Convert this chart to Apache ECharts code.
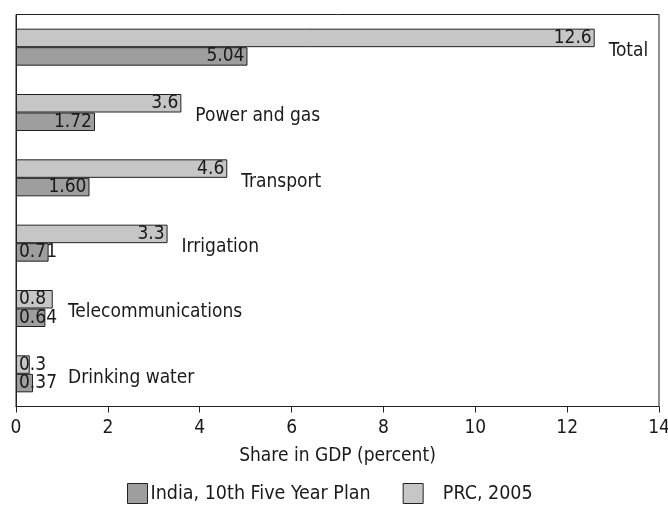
<!DOCTYPE html>
<html>
<head>
<meta charset="utf-8">
<script src="https://cdn.jsdelivr.net/npm/echarts@6/dist/echarts.min.js"></script>
<style>
html, body { margin: 0; padding: 0; background: #fff; }
#chart { width: 668px; height: 506px; }
</style>
</head>
<body>
<div id="chart"></div>
<script>
const categories = ['Total', 'Power and gas', 'Transport', 'Irrigation', 'Telecommunications', 'Drinking water']
const prcValues = [12.6, 3.6, 4.6, 3.3, 0.8, 0.3]
const indiaValues = [5.04, 1.72, 1.60, 0.71, 0.64, 0.37]
const indiaLabels = ['5.04', '1.72', '1.60', '0.71', '0.64', '0.37']
const prcName = 'PRC, 2005'
const indiaName = 'India, 10th Five Year Plan'

const font = 'DejaVu Sans Condensed'
const ink = '#1a1a1a'
// category names never start closer to the axis than this (keeps clear of the value text)
const minNameAnchor = 0.83

// narrow bars get their value written from the left edge
const barData = (vals, texts) => vals.map((v, i) => ({
    value: v,
    label: {
        position: v < 1 ? 'insideLeft' : 'insideRight',
        formatter: texts ? texts[i] : String(v)
    }
}))

const myChart = echarts.init(document.getElementById('chart'))
const option = {
    animation: false,
    textStyle: { fontFamily: font },
    grid: {
        left: 16, right: 9, top: 14.5, bottom: 99.5,
        outerBoundsMode: 'none',
        show: true, borderColor: '#222', borderWidth: 1
    },
    legend: {
        data: [indiaName, prcName],
        bottom: 2,
        left: 127,
        padding: 0,
        itemWidth: 20,
        itemHeight: 20,
        itemGap: 32,
        icon: 'rect',
        itemStyle: { borderColor: '#222', borderWidth: 1 },
        textStyle: { fontFamily: font, fontSize: 19.5, color: ink, padding: [0, 0, 0, -2] },
        formatter: name => name === prcName ? '   ' + name : name
    },
    xAxis: {
        type: 'value',
        min: 0, max: 14, interval: 2,
        name: 'Share in GDP (percent)',
        nameLocation: 'middle',
        nameGap: 40,
        nameTextStyle: { fontFamily: font, fontSize: 19, color: ink },
        axisLine: { show: true, lineStyle: { color: '#222' } },
        axisTick: { show: true, length: 6, lineStyle: { color: '#222' } },
        axisLabel: { fontFamily: font, fontSize: 19, color: ink, margin: 12 },
        splitLine: { show: false }
    },
    yAxis: {
        type: 'category',
        data: categories,
        inverse: true,
        axisLine: { show: true, lineStyle: { color: '#222' } },
        axisTick: { show: false },
        axisLabel: { show: false }
    },
    series: [
        {
            name: prcName,
            type: 'bar',
            barWidth: 18.5,
            barGap: '0%',
            itemStyle: { color: '#c6c6c6', borderColor: '#222', borderWidth: 1 },
            label: { show: true, fontFamily: font, fontSize: 19, color: ink, distance: 3 },
            data: barData(prcValues)
        },
        {
            name: indiaName,
            type: 'bar',
            barWidth: 18.5,
            barGap: '0%',
            itemStyle: { color: '#9e9e9e', borderColor: '#222', borderWidth: 1 },
            label: { show: true, fontFamily: font, fontSize: 19, color: ink, distance: 3 },
            data: barData(indiaValues, indiaLabels)
        },
        {
            type: 'scatter',
            symbolSize: 0,
            silent: true,
            itemStyle: { opacity: 1 },
            label: {
                show: true,
                position: 'right',
                distance: 14,
                offset: [0, 4],
                fontFamily: font,
                fontSize: 19,
                color: ink,
                formatter: p => categories[p.dataIndex]
            },
            data: categories.map((c, i) => [Math.max(prcValues[i], indiaValues[i], minNameAnchor), c])
        }
    ]
}
myChart.setOption(option)
</script>
</body>
</html>
